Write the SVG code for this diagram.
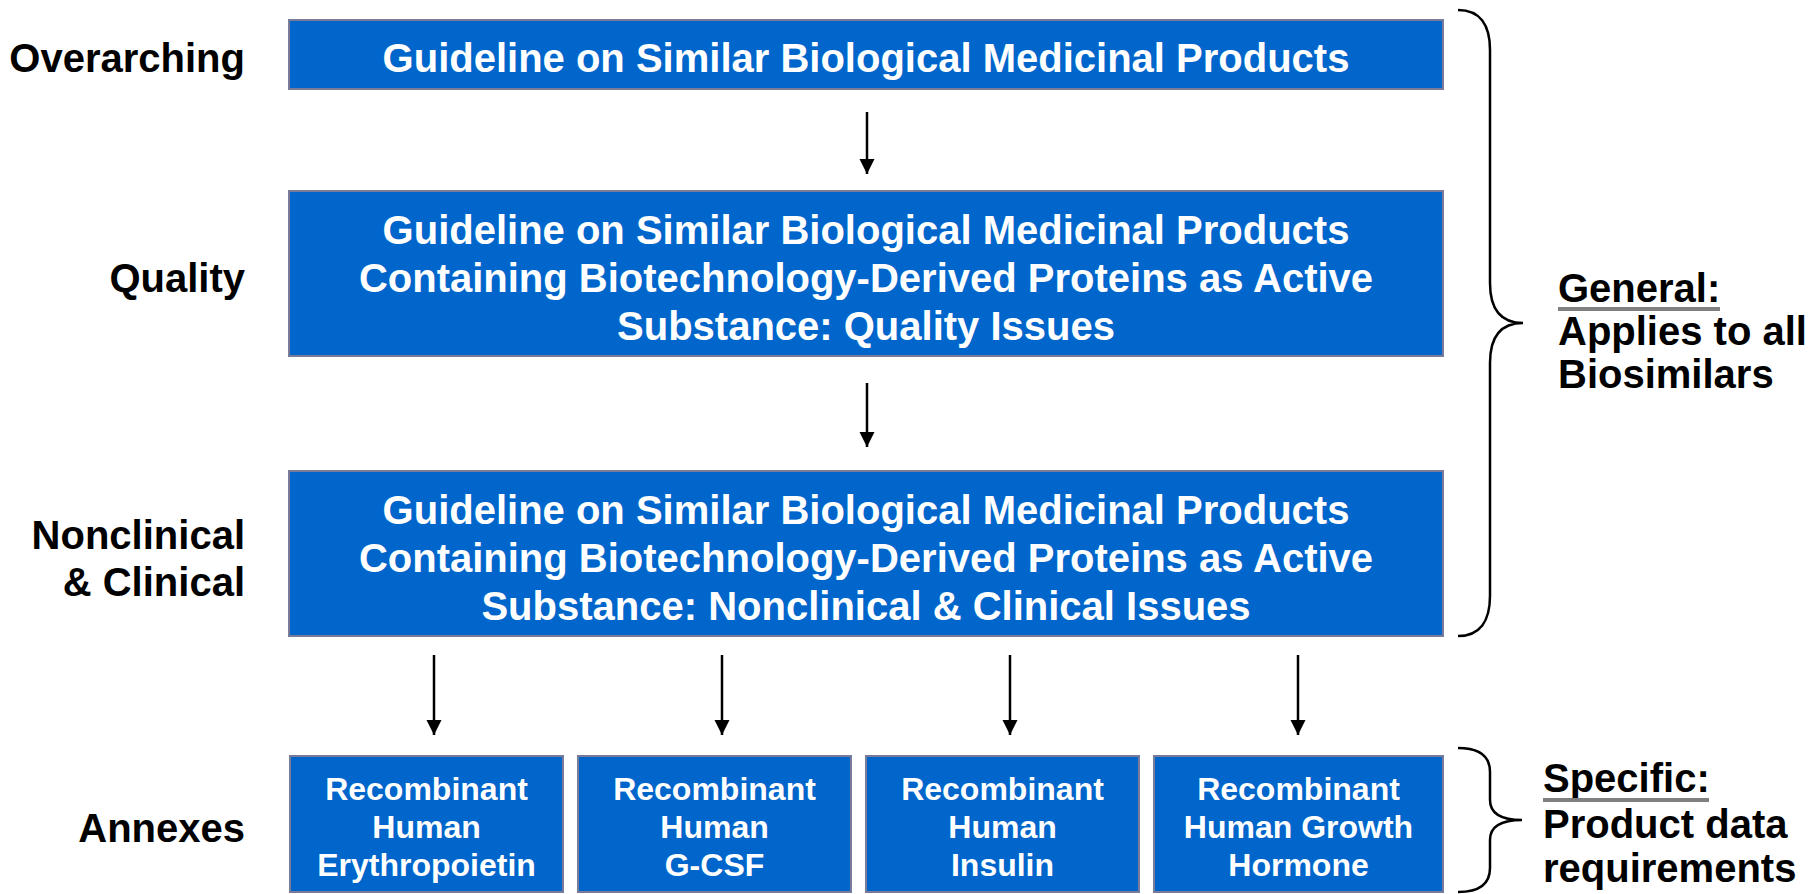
<svg xmlns="http://www.w3.org/2000/svg" width="1819" height="894" viewBox="0 0 1819 894">
  <style>
    .box { fill: #0066CC; stroke: #7A7A99; stroke-width: 2; }
    .wt { fill: #FFFFFF; font-family: "Liberation Sans", Arial, sans-serif; font-weight: bold; font-size: 40px; text-anchor: middle; }
    .ws { fill: #FFFFFF; font-family: "Liberation Sans", Arial, sans-serif; font-weight: bold; font-size: 32px; text-anchor: middle; }
    .lbl { fill: #000000; font-family: "Liberation Sans", Arial, sans-serif; font-weight: bold; font-size: 40px; text-anchor: end; }
    .note { fill: #000000; font-family: "Liberation Sans", Arial, sans-serif; font-weight: bold; font-size: 40px; }
    .conn { stroke: #000000; stroke-width: 2.5; fill: none; }
    .brace { stroke: #000000; stroke-width: 2.5; fill: none; }
    .uline { fill: #808080; }
  </style>
  <defs>
    <marker id="arrow" markerUnits="userSpaceOnUse" markerWidth="16" markerHeight="16" refX="15" refY="8" orient="auto">
      <path d="M0,0.5 L15,8 L0,15.5 Z" fill="#000000"/>
    </marker>
  </defs>

  <rect width="1819" height="894" fill="#FFFFFF"/>

  <!-- row labels -->
  <g id="row-labels">
    <text class="lbl" x="245" y="71.5">Overarching</text>
    <text class="lbl" x="245" y="291.5">Quality</text>
    <text class="lbl" x="245" y="548.5">Nonclinical</text>
    <text class="lbl" x="245" y="595.5">&amp; Clinical</text>
    <text class="lbl" x="245" y="841.5">Annexes</text>
  </g>

  <!-- guideline boxes -->
  <g id="overarching">
    <rect class="box" x="289" y="20" width="1154" height="69"/>
    <text class="wt" x="866" y="71.5">Guideline on Similar Biological Medicinal Products</text>
  </g>
  <g id="quality">
    <rect class="box" x="289" y="191" width="1154" height="165"/>
    <text class="wt" x="866" y="243.5">Guideline on Similar Biological Medicinal Products</text>
    <text class="wt" x="866" y="291.5">Containing Biotechnology-Derived Proteins as Active</text>
    <text class="wt" x="866" y="339.5">Substance: Quality Issues</text>
  </g>
  <g id="nonclinical-clinical">
    <rect class="box" x="289" y="471" width="1154" height="165"/>
    <text class="wt" x="866" y="523.5">Guideline on Similar Biological Medicinal Products</text>
    <text class="wt" x="866" y="571.5">Containing Biotechnology-Derived Proteins as Active</text>
    <text class="wt" x="866" y="619.5">Substance: Nonclinical &amp; Clinical Issues</text>
  </g>

  <!-- annexes -->
  <g id="annex-epo">
    <rect class="box" x="290" y="756" width="273" height="136"/>
    <text class="ws" x="426.5" y="800">Recombinant</text>
    <text class="ws" x="426.5" y="838">Human</text>
    <text class="ws" x="426.5" y="876">Erythropoietin</text>
  </g>
  <g id="annex-gcsf">
    <rect class="box" x="578" y="756" width="273" height="136"/>
    <text class="ws" x="714.5" y="800">Recombinant</text>
    <text class="ws" x="714.5" y="838">Human</text>
    <text class="ws" x="714.5" y="876">G-CSF</text>
  </g>
  <g id="annex-insulin">
    <rect class="box" x="866" y="756" width="273" height="136"/>
    <text class="ws" x="1002.5" y="800">Recombinant</text>
    <text class="ws" x="1002.5" y="838">Human</text>
    <text class="ws" x="1002.5" y="876">Insulin</text>
  </g>
  <g id="annex-growth-hormone">
    <rect class="box" x="1154" y="756" width="289" height="136"/>
    <text class="ws" x="1298.5" y="800">Recombinant</text>
    <text class="ws" x="1298.5" y="838">Human Growth</text>
    <text class="ws" x="1298.5" y="876">Hormone</text>
  </g>

  <!-- connectors -->
  <g id="connectors">
    <line class="conn" x1="867" y1="112" x2="867" y2="174" marker-end="url(#arrow)"/>
    <line class="conn" x1="867" y1="383" x2="867" y2="447" marker-end="url(#arrow)"/>
    <line class="conn" x1="434" y1="655" x2="434" y2="735" marker-end="url(#arrow)"/>
    <line class="conn" x1="722" y1="655" x2="722" y2="735" marker-end="url(#arrow)"/>
    <line class="conn" x1="1010" y1="655" x2="1010" y2="735" marker-end="url(#arrow)"/>
    <line class="conn" x1="1298" y1="655" x2="1298" y2="735" marker-end="url(#arrow)"/>
  </g>

  <!-- general scope brace -->
  <g id="general-scope">
    <path class="brace" d="M1458,10 C1480,10 1490,25 1490,50 L1490,283 C1490,308 1500,323 1523,323 C1500,323 1490,338 1490,363 L1490,596 C1490,621 1480,636 1458,636"/>
    <text class="note" x="1558" y="302">General:</text>
    <rect class="uline" x="1558" y="307" width="162" height="4"/>
    <text class="note" x="1558" y="345">Applies to all</text>
    <text class="note" x="1558" y="388">Biosimilars</text>
  </g>

  <!-- specific scope brace -->
  <g id="specific-scope">
    <path class="brace" d="M1458,748 C1480,748 1490,756 1490,772 L1490,800 C1490,814 1502,820 1522,820 C1502,820 1490,826 1490,840 L1490,868 C1490,884 1480,892 1458,892"/>
    <text class="note" x="1543" y="792">Specific:</text>
    <rect class="uline" x="1543" y="798" width="166" height="4"/>
    <text class="note" x="1543" y="838">Product data</text>
    <text class="note" x="1543" y="882">requirements</text>
  </g>
</svg>
